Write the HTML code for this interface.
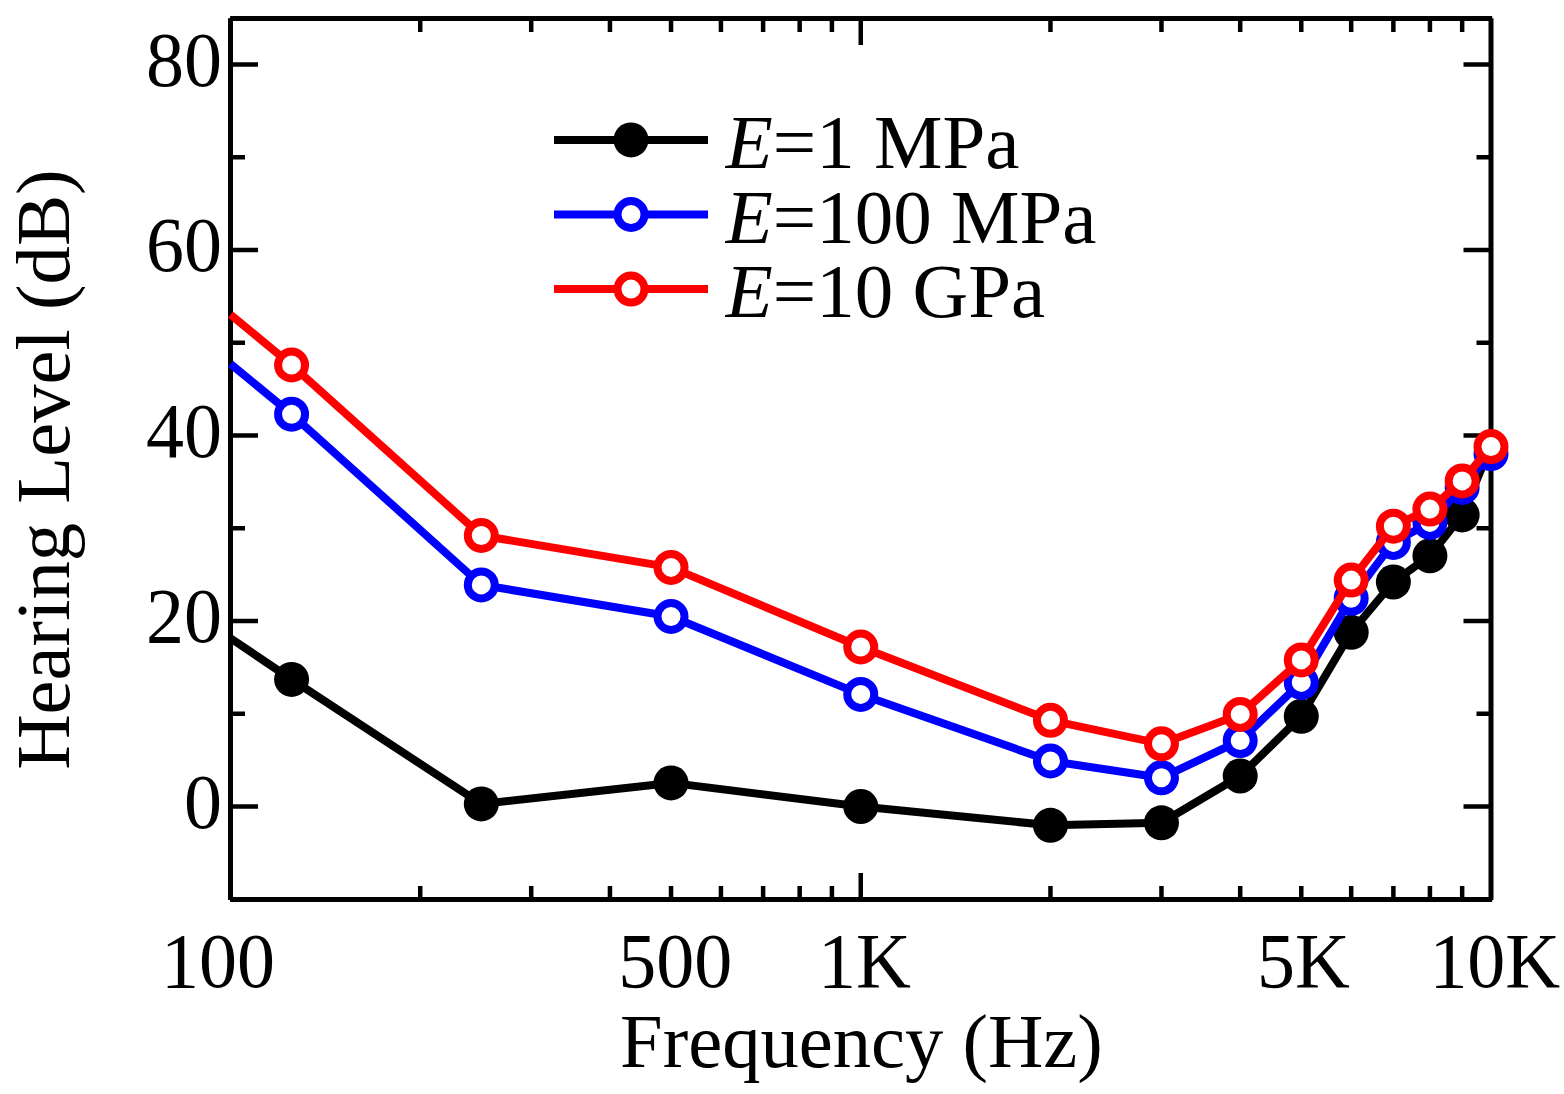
<!DOCTYPE html>
<html><head><meta charset="utf-8"><title>Hearing Level vs Frequency</title>
<style>
html,body{margin:0;padding:0;background:#fff;}
body{width:1564px;height:1094px;overflow:hidden;}
svg{display:block;}
.t{font-family:"Liberation Serif","Times New Roman",serif;font-size:77px;fill:#000;}
.k{font-size:76px;}
</style></head><body>
<svg width="1564" height="1094" viewBox="0 0 1564 1094">
<path d="M230.1 18.4H1492.2M230.5 18.3V900.1M230.1 899.4H1492.2M1491 18.3V899.9" fill="none" stroke="#000" stroke-width="5"/>
<path d="M420.22 899.4v-13.5M420.22 18.4v13.5M531.21 899.4v-13.5M531.21 18.4v13.5M609.95 899.4v-13.5M609.95 18.4v13.5M671.03 899.4v-13.5M671.03 18.4v13.5M720.93 899.4v-13.5M720.93 18.4v13.5M763.12 899.4v-13.5M763.12 18.4v13.5M799.67 899.4v-13.5M799.67 18.4v13.5M831.91 899.4v-13.5M831.91 18.4v13.5M860.75 899.4v-26.5M860.75 18.4v26.5M1050.47 899.4v-13.5M1050.47 18.4v13.5M1161.46 899.4v-13.5M1161.46 18.4v13.5M1240.20 899.4v-13.5M1240.20 18.4v13.5M1301.28 899.4v-13.5M1301.28 18.4v13.5M1351.18 899.4v-13.5M1351.18 18.4v13.5M1393.37 899.4v-13.5M1393.37 18.4v13.5M1429.92 899.4v-13.5M1429.92 18.4v13.5M1462.16 899.4v-13.5M1462.16 18.4v13.5M230.5 806.40h27.5M1491 806.40h-27.5M230.5 713.65h14.5M1491 713.65h-14.5M230.5 620.90h27.5M1491 620.90h-27.5M230.5 528.15h14.5M1491 528.15h-14.5M230.5 435.40h27.5M1491 435.40h-27.5M230.5 342.65h14.5M1491 342.65h-14.5M230.5 249.90h27.5M1491 249.90h-27.5M230.5 157.15h14.5M1491 157.15h-14.5M230.5 64.40h27.5M1491 64.40h-27.5" stroke="#000" stroke-width="4.5" fill="none"/>
<polyline points="230.50,638.20 291.58,679.40 481.30,803.90 671.03,782.90 860.75,806.50 1050.47,825.30 1161.46,822.80 1240.20,776.00 1301.28,716.30 1351.18,632.30 1393.37,582.00 1429.92,555.80 1462.16,514.90 1491.00,446.00" fill="none" stroke="#000" stroke-width="8" stroke-linejoin="round"/><circle cx="291.58" cy="679.40" r="17.5" fill="#000"/><circle cx="481.30" cy="803.90" r="17.5" fill="#000"/><circle cx="671.03" cy="782.90" r="17.5" fill="#000"/><circle cx="860.75" cy="806.50" r="17.5" fill="#000"/><circle cx="1050.47" cy="825.30" r="17.5" fill="#000"/><circle cx="1161.46" cy="822.80" r="17.5" fill="#000"/><circle cx="1240.20" cy="776.00" r="17.5" fill="#000"/><circle cx="1301.28" cy="716.30" r="17.5" fill="#000"/><circle cx="1351.18" cy="632.30" r="17.5" fill="#000"/><circle cx="1393.37" cy="582.00" r="17.5" fill="#000"/><circle cx="1429.92" cy="555.80" r="17.5" fill="#000"/><circle cx="1462.16" cy="514.90" r="17.5" fill="#000"/>
<polyline points="230.50,363.85 291.58,414.20 481.30,584.90 671.03,616.50 860.75,694.40 1050.47,761.00 1161.46,777.80 1240.20,740.60 1301.28,682.40 1351.18,598.30 1393.37,542.40 1429.92,522.40 1462.16,487.50 1491.00,453.70" fill="none" stroke="#00f" stroke-width="8" stroke-linejoin="round"/><circle cx="291.58" cy="414.20" r="13.5" fill="#fff" stroke="#00f" stroke-width="8"/><circle cx="481.30" cy="584.90" r="13.5" fill="#fff" stroke="#00f" stroke-width="8"/><circle cx="671.03" cy="616.50" r="13.5" fill="#fff" stroke="#00f" stroke-width="8"/><circle cx="860.75" cy="694.40" r="13.5" fill="#fff" stroke="#00f" stroke-width="8"/><circle cx="1050.47" cy="761.00" r="13.5" fill="#fff" stroke="#00f" stroke-width="8"/><circle cx="1161.46" cy="777.80" r="13.5" fill="#fff" stroke="#00f" stroke-width="8"/><circle cx="1240.20" cy="740.60" r="13.5" fill="#fff" stroke="#00f" stroke-width="8"/><circle cx="1301.28" cy="682.40" r="13.5" fill="#fff" stroke="#00f" stroke-width="8"/><circle cx="1351.18" cy="598.30" r="13.5" fill="#fff" stroke="#00f" stroke-width="8"/><circle cx="1393.37" cy="542.40" r="13.5" fill="#fff" stroke="#00f" stroke-width="8"/><circle cx="1429.92" cy="522.40" r="13.5" fill="#fff" stroke="#00f" stroke-width="8"/><circle cx="1462.16" cy="487.50" r="13.5" fill="#fff" stroke="#00f" stroke-width="8"/><circle cx="1491.00" cy="453.70" r="13.5" fill="#fff" stroke="#00f" stroke-width="8"/>
<polyline points="230.50,314.60 291.58,365.00 481.30,535.50 671.03,567.40 860.75,647.00 1050.47,720.30 1161.46,743.80 1240.20,714.40 1301.28,659.90 1351.18,580.10 1393.37,526.20 1429.92,509.10 1462.16,480.90 1491.00,446.60" fill="none" stroke="#f00" stroke-width="8" stroke-linejoin="round"/><circle cx="291.58" cy="365.00" r="13.5" fill="#fff" stroke="#f00" stroke-width="8"/><circle cx="481.30" cy="535.50" r="13.5" fill="#fff" stroke="#f00" stroke-width="8"/><circle cx="671.03" cy="567.40" r="13.5" fill="#fff" stroke="#f00" stroke-width="8"/><circle cx="860.75" cy="647.00" r="13.5" fill="#fff" stroke="#f00" stroke-width="8"/><circle cx="1050.47" cy="720.30" r="13.5" fill="#fff" stroke="#f00" stroke-width="8"/><circle cx="1161.46" cy="743.80" r="13.5" fill="#fff" stroke="#f00" stroke-width="8"/><circle cx="1240.20" cy="714.40" r="13.5" fill="#fff" stroke="#f00" stroke-width="8"/><circle cx="1301.28" cy="659.90" r="13.5" fill="#fff" stroke="#f00" stroke-width="8"/><circle cx="1351.18" cy="580.10" r="13.5" fill="#fff" stroke="#f00" stroke-width="8"/><circle cx="1393.37" cy="526.20" r="13.5" fill="#fff" stroke="#f00" stroke-width="8"/><circle cx="1429.92" cy="509.10" r="13.5" fill="#fff" stroke="#f00" stroke-width="8"/><circle cx="1462.16" cy="480.90" r="13.5" fill="#fff" stroke="#f00" stroke-width="8"/><circle cx="1491.00" cy="446.60" r="13.5" fill="#fff" stroke="#f00" stroke-width="8"/>
<path d="M554 139.9H708" stroke="#000" stroke-width="8"/><circle cx="631" cy="139.9" r="17.5" fill="#000"/><text x="725.8" y="167.9" class="t"><tspan font-style="italic">E</tspan>=1 MPa</text><path d="M554 214.5H708" stroke="#00f" stroke-width="8"/><circle cx="631" cy="214.5" r="13.5" fill="#fff" stroke="#00f" stroke-width="8"/><text x="725.8" y="242.5" class="t"><tspan font-style="italic">E</tspan>=100 MPa</text><path d="M554 289.1H708" stroke="#f00" stroke-width="8"/><circle cx="631" cy="289.1" r="13.5" fill="#fff" stroke="#f00" stroke-width="8"/><text x="725.8" y="317.1" class="t"><tspan font-style="italic">E</tspan>=10 GPa</text>
<text transform="translate(222 85.9) scale(1 1.03)" class="t k" text-anchor="end">80</text><text transform="translate(222 271.4) scale(1 1.03)" class="t k" text-anchor="end">60</text><text transform="translate(222 456.9) scale(1 1.03)" class="t k" text-anchor="end">40</text><text transform="translate(222 642.4) scale(1 1.03)" class="t k" text-anchor="end">20</text><text transform="translate(222 827.9) scale(1 1.03)" class="t k" text-anchor="end">0</text><text transform="translate(218 987) scale(1 1.03)" class="t k" text-anchor="middle">100</text><text transform="translate(675.3 987) scale(1 1.03)" class="t k" text-anchor="middle">500</text><text transform="translate(864.5 987) scale(1 1.03)" class="t k" text-anchor="middle">1K</text><text transform="translate(1303.5 987) scale(1 1.03)" class="t k" text-anchor="middle">5K</text><text transform="translate(1494.8 987) scale(1 1.03)" class="t k" text-anchor="middle">10K</text><text x="861.5" y="1067" class="t" style="font-size:76.6px" text-anchor="middle">Frequency (Hz)</text><text transform="translate(69 469.6) rotate(-90)" class="t" style="font-size:76.7px" text-anchor="middle">Hearing Level (dB)</text>
</svg>
</body></html>
